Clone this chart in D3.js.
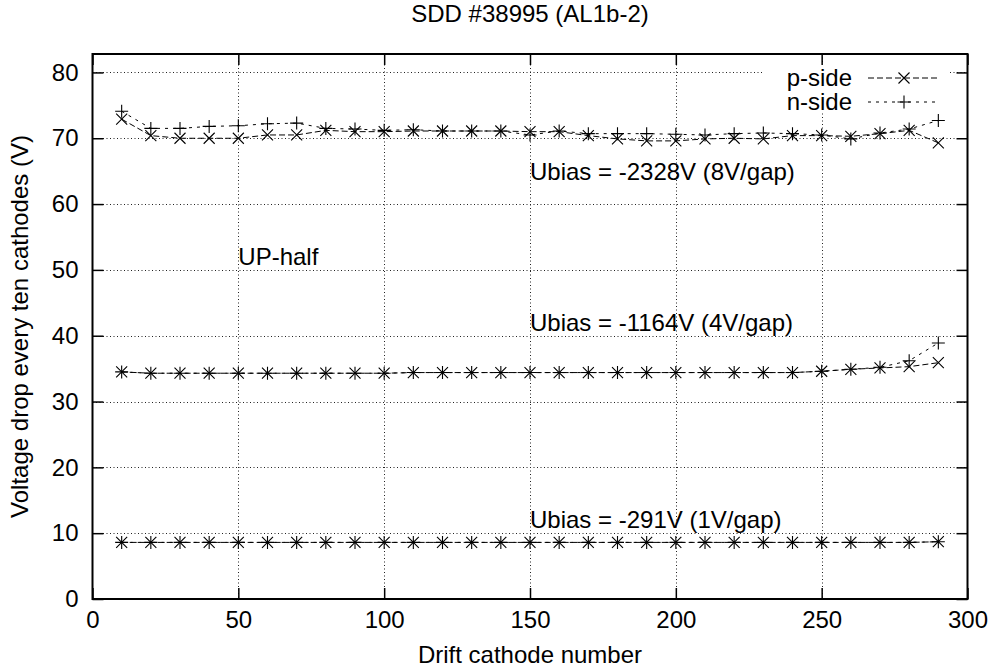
<!DOCTYPE html>
<html>
<head>
<meta charset="utf-8">
<script src="https://cdnjs.cloudflare.com/ajax/libs/d3/7.8.5/d3.min.js"></script>
<style>
  body { margin: 0; background: #fff; }
  text { font-family: "Liberation Sans", Arial, Helvetica, sans-serif; fill: #000; }
</style>
</head>
<body>
<script>
// data ==================================================================
var cathodes = [10, 20, 30, 40, 50, 60, 70, 80, 90, 100, 110, 120, 130, 140, 150,
  160, 170, 180, 190, 200, 210, 220, 230, 240, 250, 260, 270, 280, 290]

// 8V/gap
var pTop = [72.9, 70.4, 70.0, 70.0, 70.0, 70.5, 70.5, 71.2, 71.0, 71.0, 71.1, 71.1, 71.1, 71.1, 71.0,
  71.0, 70.4, 69.9, 69.6, 69.6, 69.9, 70.0, 69.9, 70.4, 70.4, 70.3, 70.7, 71.2, 69.3]
var nTop = [74.1, 71.5, 71.5, 71.8, 71.9, 72.2, 72.3, 71.5, 71.4, 71.2, 71.3, 71.1, 71.1, 71.1, 70.5,
  71.1, 70.7, 70.7, 70.7, 70.6, 70.5, 70.7, 70.8, 70.7, 70.5, 69.9, 70.8, 71.4, 72.7]
// 4V/gap
var pMid = [34.5, 34.3, 34.3, 34.3, 34.3, 34.3, 34.3, 34.3, 34.3, 34.3, 34.4, 34.4, 34.4, 34.4, 34.4,
  34.4, 34.4, 34.4, 34.4, 34.4, 34.4, 34.4, 34.4, 34.4, 34.6, 34.9, 35.1, 35.3, 35.9]
var nMid = [34.5, 34.3, 34.3, 34.3, 34.3, 34.3, 34.3, 34.3, 34.3, 34.3, 34.4, 34.4, 34.4, 34.4, 34.4,
  34.4, 34.4, 34.4, 34.4, 34.4, 34.4, 34.4, 34.4, 34.4, 34.6, 34.9, 35.2, 36.2, 38.9]
// 1V/gap
var pBot = [8.6, 8.6, 8.6, 8.6, 8.6, 8.6, 8.6, 8.6, 8.6, 8.6, 8.6, 8.6, 8.6, 8.6, 8.6,
  8.6, 8.6, 8.6, 8.6, 8.6, 8.6, 8.6, 8.6, 8.6, 8.6, 8.6, 8.6, 8.6, 8.7]
var nBot = [8.6, 8.6, 8.6, 8.6, 8.6, 8.6, 8.6, 8.6, 8.6, 8.6, 8.6, 8.6, 8.6, 8.6, 8.6,
  8.6, 8.6, 8.6, 8.6, 8.6, 8.6, 8.6, 8.6, 8.6, 8.6, 8.6, 8.6, 8.6, 8.7]

var xTicks = [0, 50, 100, 150, 200, 250, 300]
var yTicks = [0, 10, 20, 30, 40, 50, 60, 70, 80]

var labels = [
  { x: 150, y: 65, text: "Ubias = -2328V (8V/gap)" },
  { x: 150, y: 42, text: "Ubias = -1164V (4V/gap)" },
  { x: 150, y: 12, text: "Ubias = -291V (1V/gap)" },
  { x: 50, y: 52, text: "UP-half" }
]

// layout ===============================================================
var W = 992, H = 672
var plotL = 92.5, plotR = 967.5, plotT = 54, plotB = 599
var fontSize = "24px"

var x = d3.scaleLinear().domain([0, 300]).range([plotL, plotR])
var y = d3.scaleLinear().domain([0, 82.8]).range([plotB, plotT])

var svg = d3.select("body").append("svg")
  .attr("width", W)
  .attr("height", H)

// grid
var grid = svg.append("g")
  .attr("stroke", "#222")
  .attr("stroke-width", 1)
  .attr("stroke-dasharray", "1,2.5")
grid.selectAll(".gx").data(xTicks.slice(1, -1)).enter().append("line")
  .attr("x1", function(d) { return Math.round(x(d)) + 0.5 }).attr("x2", function(d) { return Math.round(x(d)) + 0.5 })
  .attr("y1", plotT).attr("y2", plotB)
grid.selectAll(".gy").data(yTicks.slice(1)).enter().append("line")
  .attr("y1", function(d) { return Math.round(y(d)) + 0.5 }).attr("y2", function(d) { return Math.round(y(d)) + 0.5 })
  .attr("x1", plotL).attr("x2", plotR)

// key hides the grid behind it
svg.append("rect")
  .attr("x", 762).attr("y", 64).attr("width", 186).attr("height", 48)
  .attr("fill", "#fff")

// axes, ticks drawn inward on all four sides
function styleAxis(g) {
  g.select(".domain").remove()
  g.selectAll(".tick line").attr("stroke", "#000").attr("stroke-width", 1.5)
  g.selectAll(".tick text").style("font-size", fontSize).attr("font-family", null)
}

svg.append("g")
  .attr("transform", "translate(" + plotL + ",0)")
  .call(d3.axisLeft(y).tickValues(yTicks).tickSize(-11).tickPadding(14))
  .call(styleAxis)
svg.append("g")
  .attr("transform", "translate(" + plotR + ",0)")
  .call(d3.axisRight(y).tickValues(yTicks).tickSize(-11).tickFormat(""))
  .call(styleAxis)
svg.append("g")
  .attr("transform", "translate(0," + plotB + ")")
  .call(d3.axisBottom(x).tickValues(xTicks).tickSize(-11).tickPadding(12))
  .call(styleAxis)
svg.append("g")
  .attr("transform", "translate(0," + plotT + ")")
  .call(d3.axisTop(x).tickValues(xTicks).tickSize(-11).tickFormat(""))
  .call(styleAxis)

svg.append("rect")
  .attr("x", plotL).attr("y", plotT)
  .attr("width", plotR - plotL).attr("height", plotB - plotT)
  .attr("fill", "none").attr("stroke", "#000").attr("stroke-width", 2)

// series =================================================================
var series = [
  { vals: pTop, side: "p" }, { vals: nTop, side: "n" },
  { vals: pMid, side: "p" }, { vals: nMid, side: "n" },
  { vals: pBot, side: "p" }, { vals: nBot, side: "n" }
]
var dash = { p: "6,3", n: "3,5" }

function crossPath(cx, cy) {
  var s = 5.5
  return "M" + (cx - s) + "," + (cy - s) + "L" + (cx + s) + "," + (cy + s) +
    "M" + (cx - s) + "," + (cy + s) + "L" + (cx + s) + "," + (cy - s)
}
function plusPath(cx, cy) {
  var s = 6.5
  return "M" + (cx - s) + "," + cy + "L" + (cx + s) + "," + cy +
    "M" + cx + "," + (cy - s) + "L" + cx + "," + (cy + s)
}

var line = d3.line()
  .x(function(d) { return x(d[0]) })
  .y(function(d) { return y(d[1]) })

var plot = svg.append("g")
series.forEach(function(s) {
  var pts = cathodes.map(function(c, i) { return [c, s.vals[i]] })
  plot.append("path")
    .attr("d", line(pts))
    .attr("fill", "none")
    .attr("stroke", "#000")
    .attr("stroke-width", 1)
    .attr("stroke-dasharray", dash[s.side])
  plot.append("g").selectAll("path")
    .data(pts)
    .enter().append("path")
    .attr("d", function(d) { return s.side == "p" ? crossPath(x(d[0]), y(d[1])) : plusPath(x(d[0]), y(d[1])) })
    .attr("stroke", "#000")
    .attr("stroke-width", 1.1)
    .attr("fill", "none")
})

// labels
svg.append("g").selectAll("text")
  .data(labels)
  .enter().append("text")
  .attr("x", function(d) { return x(d.x) })
  .attr("y", function(d) { return y(d.y) })
  .attr("dy", "0.35em")
  .style("font-size", fontSize)
  .text(function(d) { return d.text })

// key
var key = svg.append("g")
var keyRows = [{ name: "p-side", side: "p", y: 78 }, { name: "n-side", side: "n", y: 102 }]
keyRows.forEach(function(k) {
  key.append("text")
    .attr("x", 852).attr("y", k.y).attr("dy", "0.35em")
    .attr("text-anchor", "end")
    .style("font-size", fontSize)
    .text(k.name)
  key.append("line")
    .attr("x1", 868).attr("x2", 940).attr("y1", k.y).attr("y2", k.y)
    .attr("stroke", "#000").attr("stroke-width", 1)
    .attr("stroke-dasharray", dash[k.side])
  key.append("path")
    .attr("d", k.side == "p" ? crossPath(904, k.y) : plusPath(904, k.y))
    .attr("stroke", "#000").attr("stroke-width", 1.1)
})

// titles
svg.append("text")
  .attr("x", (plotL + plotR) / 2).attr("y", 22)
  .attr("text-anchor", "middle")
  .style("font-size", fontSize)
  .text("SDD #38995 (AL1b-2)")
svg.append("text")
  .attr("x", (plotL + plotR) / 2).attr("y", 663)
  .attr("text-anchor", "middle")
  .style("font-size", fontSize)
  .text("Drift cathode number")
svg.append("text")
  .attr("transform", "translate(28," + ((plotT + plotB) / 2) + ") rotate(-90)")
  .attr("text-anchor", "middle")
  .style("font-size", fontSize)
  .text("Voltage drop every ten cathodes (V)")
</script>
</body>
</html>
